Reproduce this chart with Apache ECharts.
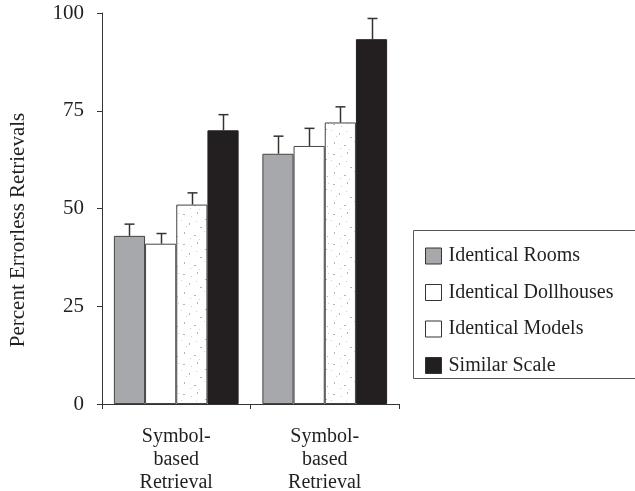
<!DOCTYPE html>
<html>
<head>
<meta charset="utf-8">
<script src="https://cdn.jsdelivr.net/npm/echarts@6/dist/echarts.min.js"></script>
<style>
  html, body { margin: 0; padding: 0; background: #fff; }
  #chart { width: 635px; height: 491px; }
</style>
</head>
<body>
<div id="chart"></div>
<script>
// Categories and series values (percent errorless retrievals)
const categories = ['Symbol-\nbased\nRetrieval', 'Symbol-\nbased\nRetrieval'];
const seriesNames = ['Identical Rooms', 'Identical Dollhouses', 'Identical Models', 'Similar Scale'];
const identicalRooms = [43, 64];
const identicalDollhouses = [41, 66];
const identicalModels = [51, 72];
const similarScale = [70, 93.3];
// Upper end of each error bar
const roomsErr = [46, 68.5];
const dollhousesErr = [43.6, 70.5];
const modelsErr = [54, 76];
const scaleErr = [74, 98.6];
const yTicks = [0, 25, 50, 75, 100];
const yTitle = 'Percent Errorless Retrievals';

const values = [identicalRooms, identicalDollhouses, identicalModels, similarScale];
const errTops = [roomsErr, dollhousesErr, modelsErr, scaleErr];

const SERIF = '"Liberation Serif", "Times New Roman", "DejaVu Serif", serif';

// Sparse stippled fill for the "Identical Models" bars
function makeStipple() {
  const c = document.createElement('canvas');
  c.width = 30; c.height = 30;
  const g = c.getContext('2d');
  g.fillStyle = '#ffffff';
  g.fillRect(0, 0, 30, 30);
  g.fillStyle = '#b4b4b6';
  const specks = [[3,4,2,1],[17,2,1,2],[25,9,2,1],[9,13,1,2],[20,17,2,1],[4,22,1,2],[14,25,2,1],[27,26,1,1]];
  specks.forEach(p => g.fillRect(p[0], p[1], p[2], p[3]));
  g.fillStyle = '#d0d0d2';
  const light = [[11,6],[28,3],[6,16],[16,11],[24,21],[10,28],[1,10],[19,29]];
  light.forEach(p => g.fillRect(p[0], p[1], 1, 1));
  return c;
}

const fills = ['#a7a8ab', '#ffffff', { image: makeStipple(), repeat: 'repeat' }, '#231f20'];
const borders = ['#444', '#444', '#444', '#231f20'];
const legendFills = ['#a7a8ab', '#ffffff', '#ffffff', '#231f20'];
const CAT_GAP = 0.16;

const barSeries = seriesNames.map((name, i) => ({
  name: name,
  type: 'bar',
  data: values[i],
  barGap: 0,
  barCategoryGap: (CAT_GAP * 100) + '%',
  itemStyle: { color: fills[i], borderColor: borders[i], borderWidth: 1 },
  emphasis: { disabled: true },
  z: 2
}));

const errSeries = seriesNames.map((name, i) => ({
  name: name + ' error',
  type: 'custom',
  data: values[i].map((v, k) => [k, v, errTops[i][k]]),
  encode: { x: 0, y: [1, 2] },
  z: 5,
  silent: true,
  renderItem: function (params, api) {
    const k = api.value(0);
    const base = api.coord([k, api.value(1)]);
    const top = api.coord([k, api.value(2)]);
    const band = api.size([1, 0])[0];
    const bw = band * (1 - CAT_GAP) / 4;
    const cx = Math.round(base[0] + (i - 1.5) * bw) + 0.5;
    const st = { stroke: '#333', lineWidth: 1.5 };
    return {
      type: 'group',
      children: [
        { type: 'line', shape: { x1: cx, y1: base[1], x2: cx, y2: top[1] }, style: st },
        { type: 'line', shape: { x1: cx - 5, y1: top[1], x2: cx + 5, y2: top[1] }, style: st }
      ]
    };
  }
}));

const chart = echarts.init(document.getElementById('chart'), null, { renderer: 'canvas' });
chart.setOption({
  animation: false,
  backgroundColor: '#ffffff',
  textStyle: { fontFamily: SERIF },
  grid: { left: 102, right: 236, top: 13, bottom: 87, outerBoundsMode: 'none', containLabel: false },
  xAxis: {
    type: 'category',
    data: categories,
    axisLine: { show: true, lineStyle: { color: '#333', width: 1 } },
    axisTick: { show: true, length: 5, lineStyle: { color: '#333' } },
    axisLabel: {
      color: '#231f20', fontSize: 20, lineHeight: 23, margin: 21,
      fontFamily: SERIF
    }
  },
  yAxis: {
    type: 'value',
    min: 0, max: 100, interval: 25,
    splitLine: { show: false },
    axisLine: { show: true, lineStyle: { color: '#333', width: 1 } },
    axisTick: { show: true, length: 5, lineStyle: { color: '#333' } },
    axisLabel: {
      color: '#231f20', fontSize: 21, margin: 18, fontFamily: SERIF,
      formatter: v => (yTicks.indexOf(v) >= 0 ? String(v) : '')
    }
  },
  legend: {
    orient: 'vertical',
    left: 420, top: 241,
    itemWidth: 16, itemHeight: 16,
    itemGap: 16.5,
    icon: 'rect',
    selectedMode: false,
    textStyle: { fontSize: 20, lineHeight: 20, color: '#231f20', fontFamily: SERIF, padding: [0, 0, 0, 2] },
    data: seriesNames.map((n, i) => ({
      name: n,
      itemStyle: { color: legendFills[i], borderColor: '#333', borderWidth: 1 }
    }))
  },
  graphic: [
    {
      type: 'rect',
      shape: { x: 413.5, y: 230.5, width: 300, height: 148 },
      style: { fill: 'none', stroke: '#555', lineWidth: 1 },
      silent: true
    },
    {
      type: 'text',
      x: 18, y: 230,
      rotation: Math.PI / 2,
      style: {
        text: yTitle, fill: '#231f20', font: '21px ' + SERIF,
        align: 'center', verticalAlign: 'middle'
      },
      silent: true
    }
  ],
  series: barSeries.concat(errSeries)
});
</script>
</body>
</html>
